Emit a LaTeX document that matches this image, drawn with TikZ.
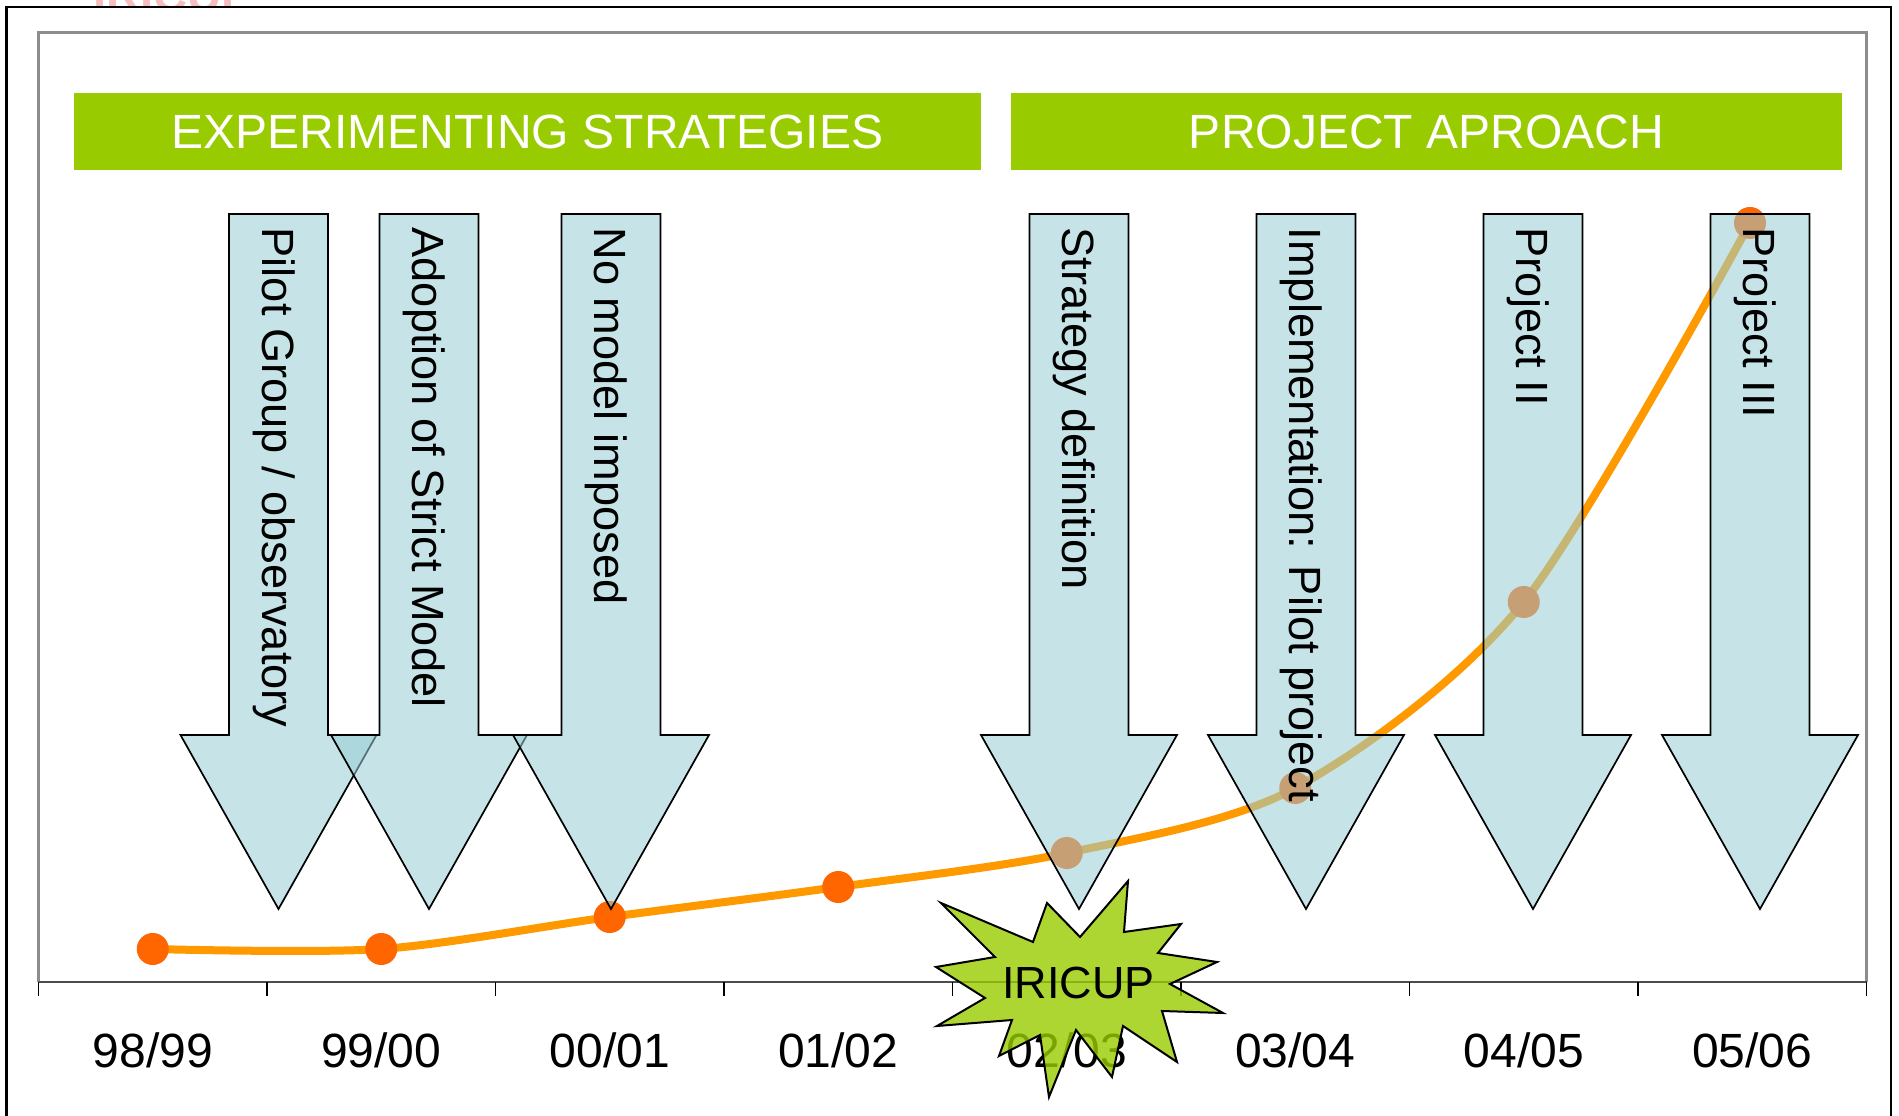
\documentclass[tikz,border=0pt]{standalone}
\usepackage{fontspec}
\setmainfont{Liberation Sans}
\usepackage{xcolor}
\usetikzlibrary{positioning}

\definecolor{barGreen}{RGB}{153,204,0}
\definecolor{arrowBlue}{RGB}{152,206,213}
\definecolor{lineOrange}{RGB}{255,153,0}
\definecolor{dotOrange}{RGB}{255,102,0}
\definecolor{frameGray}{RGB}{140,140,140}
\definecolor{markPink}{RGB}{246,190,190}

\begin{document}
\begin{tikzpicture}[x=0.01cm, y=-0.01cm,
  outerframe/.style={draw=black, line width=0.02cm, fill=white},
  plotarea/.style={draw=frameGray, line width=0.03cm},
  tick/.style={draw=black, line width=0.015cm},
  banner/.style={fill=barGreen, text=white, inner sep=0pt, minimum height=0.77cm,
    font=\fontsize{13.66pt}{16pt}\selectfont},
  downarrow/.style={draw=black, line width=0.017cm, fill=arrowBlue, fill opacity=0.55},
  arrowtext/.style={rotate=-90, anchor=base west, inner sep=0pt,
    font=\fontsize{12.85pt}{15pt}\selectfont},
  year/.style={anchor=base, inner sep=0pt, font=\fontsize{13.66pt}{16pt}\selectfont},
  trend/.style={draw=lineOrange, line width=0.08cm, line join=round},
  datadot/.style={circle, fill=dotOrange, minimum size=0.32cm, inner sep=0pt},
  burst/.style={draw=black, line width=0.02cm, fill=barGreen, fill opacity=0.8}]

  \fill[white] (0,0) rectangle (1899,1116);
  \useasboundingbox (0,0) rectangle (1899,1116);

  % faded logo cut by the page edge
  \node[anchor=base, inner sep=0pt, text=markPink,
    font=\bfseries\fontsize{13.4pt}{15pt}\selectfont] (logo) at (173,12) {IRICUP};
  \draw[outerframe] (6.5,7) rectangle (1891,1140);

  % chart area and axis
  \draw[plotarea] (38.5,982) -- (38.5,33) -- (1866.5,33) -- (1866.5,982);
  \draw[draw=black!70, line width=0.025cm] (38.5,982) -- (1866.5,982);
  \foreach \k in {0,...,8}
    \draw[tick] ({38.5+228.5*\k},982) -- ++(0,14);

  \node[year] (y9899) at (152.75,1068) {98/99};
  \node[year] (y9900) at (381.25,1068) {99/00};
  \node[year] (y0001) at (609.75,1068) {00/01};
  \node[year] (y0102) at (838.25,1068) {01/02};
  \node[year] (y0203) at (1066.75,1068) {02/03};
  \node[year] (y0304) at (1295.25,1068) {03/04};
  \node[year] (y0405) at (1523.75,1068) {04/05};
  \node[year] (y0506) at (1752.25,1068) {05/06};

  % trend line
  \coordinate (p1) at (152.75,949);
  \coordinate (p2) at (381.25,949);
  \coordinate (p3) at (609.75,917);
  \coordinate (p4) at (838.25,887);
  \coordinate (p5) at (1066.75,853);
  \coordinate (p6) at (1295.25,788);
  \coordinate (p7) at (1523.75,602);
  \coordinate (p8) at (1750,223);
  \draw[trend] plot[smooth, tension=0.5] coordinates
    {(p1) (p2) (p3) (p4) (p5) (p6) (p7) (p8)};
  \foreach \p in {p1,p2,p3,p4,p5,p6,p7,p8}
    \node[datadot] at (\p) {};

  % milestones
  \foreach \ax in {278.5,429,611,1079,1306,1533,1760}
    \draw[downarrow, shift={(\ax,0)}] (-49.5,214) -- (49.5,214) -- (49.5,735)
      -- (98,735) -- (0,909) -- (-98,735) -- (-49.5,735) -- cycle;

  \node[arrowtext] (pilot) at (262,227) {Pilot Group / observatory};
  \node[arrowtext] (strict) at (412.5,227) {Adoption of Strict Model};
  \node[arrowtext] (nomodel) at (594.5,227) {No model imposed};
  \node[arrowtext] (strategy) at (1062.5,227) {Strategy definition};
  \node[arrowtext] (implem) at (1289.5,227) {Implementation: Pilot project};
  \node[arrowtext] (proj2) at (1516.5,227) {Project II};
  \node[arrowtext] (proj3) at (1743.5,227) {Project III};

  % phases
  \node[banner, minimum width=9.07cm] (experim) at (527.5,131.5) {EXPERIMENTING STRATEGIES};
  \node[banner, minimum width=8.31cm] (approach) at (1426.5,131.5) {PROJECT APROACH};

  % IRICUP burst
  \draw[burst] (941,903) -- (1033,942) -- (1047,903) -- (1080,937) -- (1128,881)
    -- (1124,932) -- (1181,924) -- (1158,953) -- (1217,962) -- (1170,984)
    -- (1223,1013) -- (1162,1011) -- (1177,1062) -- (1123,1026) -- (1112,1077)
    -- (1076,1030) -- (1049,1097) -- (1040,1035) -- (999,1056) -- (1012,1020)
    -- (937,1026) -- (985,998) -- (936,967) -- (995,957) -- cycle;
  \node[anchor=base, inner sep=0pt, font=\fontsize{12.8pt}{15pt}\selectfont]
    (iricup) at (1078.5,999) {IRICUP};
\end{tikzpicture}
\end{document}
